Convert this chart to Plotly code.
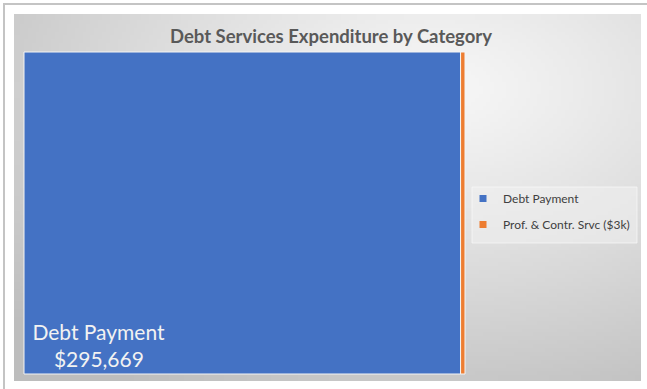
import base64
import struct
import zlib

import numpy as np
import plotly.graph_objects as go

# ---- data ----
categories = ["Debt Payment", "Prof. & Contr. Srvc ($3k)"]
amounts = [295669, 3000]
colors = ["#4472C4", "#ED7D31"]
tile_text = ["&nbsp;%{label}<br>&nbsp;&nbsp;&nbsp;&nbsp;&nbsp;$%{value:,.0f}", ""]
title_text = "Debt Services Expenditure by Category"

W, H = 647, 389


def px_x(v):
    return v / W


def px_y(v):
    return 1 - v / H


def gradient_png(w, h):
    """Soft radial grey fill for the chart area, returned as a data URI."""
    ys, xs = np.mgrid[0:h, 0:w]
    fx = xs / (w - 1)
    fy = ys / (h - 1)
    cx, cy = 0.68, 0.20
    d = np.sqrt(((fx - cx) * 1.0) ** 2 + ((fy - cy) * 0.95) ** 2)
    t = np.clip(d / 0.92, 0, 1)
    val = 247 - 58 * t ** 1.15
    img = np.repeat(val[:, :, None], 3, axis=2).astype(np.uint8)
    raw = b"".join(b"\x00" + img[r].tobytes() for r in range(h))

    def chunk(tag, data):
        c = struct.pack(">I", len(data)) + tag + data
        return c + struct.pack(">I", zlib.crc32(tag + data) & 0xFFFFFFFF)

    png = b"\x89PNG\r\n\x1a\n"
    png += chunk(b"IHDR", struct.pack(">IIBBBBB", w, h, 8, 2, 0, 0, 0))
    png += chunk(b"IDAT", zlib.compress(raw, 9))
    png += chunk(b"IEND", b"")
    return "data:image/png;base64," + base64.b64encode(png).decode()


fig = go.Figure()

fig.add_trace(
    go.Treemap(
        labels=categories,
        parents=["" for _ in categories],
        values=amounts,
        branchvalues="total",
        sort=False,
        marker=dict(colors=colors, line=dict(color="#f4f4f4", width=1), pad=dict(t=0, l=0, r=0, b=0)),
        texttemplate=tile_text,
        textposition="bottom left",
        textfont=dict(family="Lato", size=21, color="#f2f2f2"),
        hoverinfo="skip",
        pathbar=dict(visible=False),
        tiling=dict(packing="squarify", pad=0),
        root=dict(color="rgba(0,0,0,0)"),
        domain=dict(x=[px_x(24), px_x(465)], y=[px_y(374), px_y(52)]),
    )
)

# legend entries for each category
for name, col in zip(categories, colors):
    fig.add_trace(
        go.Scatter(
            x=[None],
            y=[None],
            mode="markers",
            name=name,
            legendgroup=name,
            marker=dict(symbol="square", size=7, color=col),
            showlegend=True,
        )
    )

fig.update_layout(
    width=W,
    height=H,
    margin=dict(l=0, r=0, t=0, b=0),
    paper_bgcolor="white",
    plot_bgcolor="rgba(0,0,0,0)",
    xaxis=dict(visible=False),
    yaxis=dict(visible=False),
    title=dict(
        text="<b>" + title_text + "</b>",
        x=px_x(331),
        y=px_y(37),
        xanchor="center",
        yanchor="middle",
        font=dict(family="Lato", size=18.5, color="#595959"),
    ),
    legend=dict(
        x=px_x(463),
        y=px_y(184),
        xanchor="left",
        yanchor="top",
        bgcolor="rgba(0,0,0,0)",
        font=dict(family="Lato", size=12, color="#404040"),
        traceorder="grouped",
        tracegroupgap=7,
    ),
    images=[
        dict(
            source=gradient_png(160, 94),
            xref="paper",
            yref="paper",
            x=px_x(14),
            y=px_y(14),
            sizex=(641 - 14) / W,
            sizey=(381 - 14) / H,
            xanchor="left",
            yanchor="top",
            sizing="stretch",
            layer="below",
        )
    ],
    shapes=[
        # outer frame lines
        dict(type="line", xref="paper", yref="paper", x0=px_x(3), x1=1, y0=px_y(4), y1=px_y(4),
             line=dict(color="#c4c4c4", width=2)),
        dict(type="line", xref="paper", yref="paper", x0=px_x(4), x1=px_x(4), y0=px_y(3), y1=0,
             line=dict(color="#c4c4c4", width=2)),
        # legend panel
        dict(type="rect", xref="paper", yref="paper", x0=px_x(472), x1=px_x(637), y0=px_y(243), y1=px_y(187),
             fillcolor="rgba(240,240,240,0.55)", line=dict(color="rgba(250,250,250,0.7)", width=1), layer="above"),
    ],
)

fig.write_html("out.html")
